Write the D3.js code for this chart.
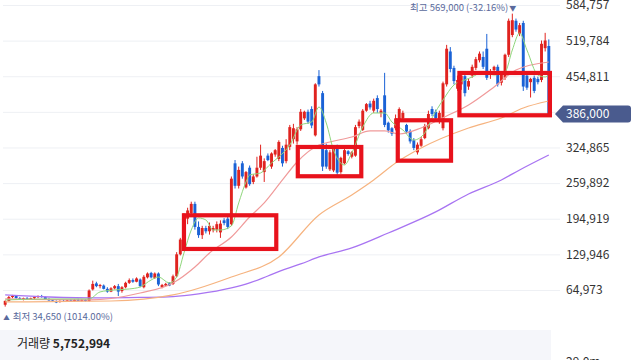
<!DOCTYPE html>
<html><head><meta charset="utf-8">
<script src="https://cdn.jsdelivr.net/npm/d3@7"></script>
<style>
html,body{margin:0;padding:0;background:#fff;}
svg{display:block;font-family:"Noto Sans CJK KR","Noto Sans",sans-serif;}
</style></head><body>
<svg id="chart" width="640" height="360"></svg>
<script>
// prices in thousands of won
const UNIT = 1000;
const open = [38,45,52,54,50,48,50,49,50,52,54,52,48,46,44,43,45,44,46,45,47,46,47,
45,66,77,72,73,67,62,68,72,63,70,78,83,80,84,70,88,96,87,95,70,73,77,76,90,130,148,195,205,222,180,165,178,172,174,175,170,192,195,185,
296,255,296,252,288,262,272,288,280,310,290,312,304,324,300,326,340,336,358,378,390,395,347,455,
424,320,285,283,326,280,296,318,308,310,364,357,392,405,392,415,388,420,370,360,360,374,378,366,
355,338,316,328,342,360,395,390,372,360,440,500,470,432,440,455,436,456,470,484,490,505,458,
466,472,443,452,494,530,556,532,552,456,444,452,450,448,506,510];
const high = [46,54,56,55,52,51,52,51,53,55,56,53,50,48,46,46,47,47,48,48,49,48,48,
66,82,80,76,75,70,70,74,76,72,80,86,86,88,86,92,97,98,97,97,76,78,79,93,134,160,205,215,226,226,190,182,182,188,182,190,192,196,202,272,
302,290,300,282,292,276,308,330,305,314,316,322,338,328,340,366,368,362,395,392,394,400,442,466,
428,332,320,328,330,308,322,320,318,366,376,395,406,410,414,420,395,461,372,362,385,398,392,368,
358,342,334,344,368,392,400,394,392,445,512,508,474,456,462,460,450,476,490,500,500,532,468,
474,476,462,496,560,569,560,552,556,460,452,456,454,520,534,522];
const low = [34.65,44,50,49,47,46,48,47,48,50,51,47,45,43,41,42,43,43,44,44,45,44,44,
44,64,70,68,66,60,61,66,54,60,68,76,78,79,70,68,86,86,85,72,68,72,72,74,88,128,145,185,200,175,160,158,168,166,170,170,160,183,176,182,
250,250,268,250,255,258,270,284,262,300,286,308,300,290,296,320,332,330,355,375,368,360,345,436,
282,286,282,280,275,277,294,310,305,308,360,355,390,394,388,388,380,362,352,346,356,370,372,350,
332,320,312,326,340,358,382,372,368,356,436,462,440,428,430,418,430,452,466,480,468,448,450,
462,436,438,448,490,526,536,528,428,430,416,424,440,444,500,384];
const close = [45,52,54,50,48,50,49,50,52,54,52,48,46,44,43,45,44,46,45,47,46,47,45,
64,76,72,74,67,62,68,72,62,70,78,83,80,86,72,89,95,88,95,75,74,76,73,90,130,157,200,210,222,180,165,178,172,182,178,185,186,187,180,268,
255,284,272,280,258,272,288,310,300,302,314,320,335,296,330,362,360,358,390,390,372,365,440,440,
290,290,316,325,279,306,320,313,316,362,372,392,404,398,410,395,392,366,356,350,378,395,388,354,
336,324,330,340,364,386,386,378,388,442,505,468,446,448,456,424,446,472,486,496,472,452,462,
472,440,460,494,556,557,540,548,436,434,450,428,444,514,520,386];

// moving averages (candle index, value in thousands)
const ma5Idx = [0,12,23,26,30,34,37,40,42,45,47,49,51,53,55,57,59,62,64,66,67,70,73,75,78,81,84,86,88,90,93,95,98,101,104,106,109,112,115,117,120,123,126,128,131,134,137,139,141,143,146,148,149];
const ma5 = [46.8,48.6,48.6,61.4,65.0,66.8,70.5,83.2,88.7,77.8,88.7,132.5,174.4,196.3,192.7,174.4,174.4,181.7,223.7,262,274.7,278.4,296.6,307.6,329.4,365.9,371.4,398.7,369.6,320.3,293.0,314.9,362.3,387.8,387.8,371.4,356.8,338.5,351.3,378.7,411.5,438.9,448.0,453.5,462.6,457.1,462.6,502.7,533.7,502.7,457.1,453.5,457.1];
const ma20Idx = [0,23,37,46,52,56,62,67,71,76,80,86,89,95,100,104,108,114,121,127,134,140,149];
const ma20 = [48.6,46.8,59.5,77.8,106.9,132.5,161.7,198.1,223.7,265.6,298.4,329.4,334.9,344.0,355.0,355.0,349.5,360.5,382.3,402.4,435.2,466.2,480.8];
const ma60Idx = [0,29,46,62,75,86,95,101,107,114,127,136,142,149];
const ma60 = [43.1,44.9,55.9,88.7,125.2,201.8,238.3,265.6,296.6,324.0,360.5,378.7,397.0,409.7];
const ma120Idx = [0,12,26,37,46,53,62,67,72,77,81,86,95,105,118,127,136,141,149];
const ma120 = [55.9,52.2,50.4,51.3,52.8,57.7,68.6,77.8,90.5,103.3,112.4,125.2,141.6,168.9,207.3,240.1,265.6,283.9,311.2];

const yTicks = [64973,129946,194919,259892,324865,389838,454811,519784,584757];
const lastPrice = 386000;
const highIdx = 139;
const highText = "최고 569,000 (-32.16%)";
const lowText = "최저 34,650 (1014.00%)";
const volTitle = "거래량";
const volValue = "5,752,994";
const volAxisText = "29.0m";
// highlighted regions: start index, end index, top price, bottom price (thousands)
const boxStart = [49.0, 80.2, 107.6, 124.5];
const boxEnd = [74.3, 97.6, 122.2, 149.3];
const boxTop = [201.2, 325.8, 374.5, 460.8];
const boxBottom = [139.8, 272.4, 300.8, 383.6];

const svg = d3.select("#chart");
const n = close.length;
const x = d3.scaleBand().domain(d3.range(n)).range([3, 551]).padding(0.2);
const xc = i => x(i) + x.bandwidth() / 2;
const xi = d3.scaleLinear().domain([0, n - 1]).range([xc(0), xc(n - 1)]);
const y = d3.scaleLinear().domain([0, 584757]).range([325.6, 5]);

const UP = "#e0231f", DOWN = "#1a62d6";

// volume pane background
svg.append("rect").attr("x", 0).attr("y", 330).attr("width", 551).attr("height", 30).attr("fill", "#f5f6fa");

// grid
const grid = svg.append("g").attr("transform", "translate(560,0)")
  .call(d3.axisRight(y).tickValues(yTicks).tickSize(-557).tickFormat(""));
grid.select(".domain").remove();
grid.selectAll("line").attr("stroke", "#eef0f4");

// candles
const data = d3.range(n).map(i => ({i, o: open[i]*UNIT, h: high[i]*UNIT, l: low[i]*UNIT, c: close[i]*UNIT}));
const cg = svg.append("g");
cg.selectAll("line.wick").data(data).join("line")
  .attr("x1", d => xc(d.i)).attr("x2", d => xc(d.i))
  .attr("y1", d => y(d.h)).attr("y2", d => y(d.l))
  .attr("stroke", d => d.c >= d.o ? UP : DOWN).attr("stroke-width", 1);
cg.selectAll("rect").data(data).join("rect")
  .attr("x", d => x(d.i)).attr("width", x.bandwidth())
  .attr("y", d => y(Math.max(d.o, d.c)))
  .attr("height", d => Math.max(1, Math.abs(y(d.o) - y(d.c))))
  .attr("fill", d => d.c >= d.o ? UP : DOWN);

// moving averages
const line = d3.line().x(d => xi(d.i)).y(d => y(d.v * UNIT)).curve(d3.curveMonotoneX);
function ma(idx, vals, color, w) {
  svg.append("path").datum(idx.map((i, k) => ({i, v: vals[k]})))
    .attr("d", line).attr("fill", "none").attr("stroke", color).attr("stroke-width", w);
}
ma(ma120Idx, ma120, "#a874f2", 1.3);
ma(ma60Idx, ma60, "#f6b37f", 1.2);
ma(ma20Idx, ma20, "#f09a9a", 1.2);
ma(ma5Idx, ma5, "#8fd67c", 1);

// highlight boxes
svg.append("g").selectAll("rect").data(d3.range(boxStart.length)).join("rect")
  .attr("x", k => xi(boxStart[k])).attr("width", k => xi(boxEnd[k]) - xi(boxStart[k]))
  .attr("y", k => y(boxTop[k]*UNIT)).attr("height", k => y(boxBottom[k]*UNIT) - y(boxTop[k]*UNIT))
  .attr("fill", "none").attr("stroke", "#e8121c").attr("stroke-width", 4.2);

// right axis labels (the one behind the price tag is hidden, as in the source)
const fmt = d3.format(",");
const ax = svg.append("g").attr("transform", "translate(562,0)")
  .call(d3.axisRight(y).tickValues(yTicks.filter(v => Math.abs(y(v) - y(lastPrice)) > 12))
    .tickSize(0).tickPadding(4).tickFormat(fmt));
ax.select(".domain").remove();
ax.selectAll("text").attr("font-size", 12).attr("fill", "#333")
  .attr("font-family", "'Noto Sans CJK KR','Noto Sans',sans-serif");

// last price tag
const ty = y(lastPrice);
svg.append("path")
  .attr("d", `M555,${ty} L563,${ty-8.5} L628,${ty-8.5} Q631,${ty-8.5} 631,${ty-5.5} L631,${ty+5.5} Q631,${ty+8.5} 628,${ty+8.5} L563,${ty+8.5} Z`)
  .attr("fill", "#4a5b8e");
svg.append("text").attr("x", 566).attr("y", ty + 4.3).attr("font-size", 12).attr("fill", "#fff")
  .text(fmt(lastPrice));

// high / low markers
const ht = svg.append("text").attr("x", xc(highIdx) + 4).attr("y", 10.5).attr("text-anchor", "end")
  .attr("font-size", 9.5).attr("fill", "#5a6a9c");
ht.append("tspan").text(highText);
ht.append("tspan").attr("font-size", 7).attr("dx", 1).text("▼");
const lt = svg.append("text").attr("x", xc(0) - 2).attr("y", 319.5).attr("font-size", 9.5).attr("fill", "#5a6a9c");
lt.append("tspan").attr("font-size", 6.5).text("▲");
lt.append("tspan").attr("dx", 3).text(lowText);

// volume pane labels
const vt = svg.append("text").attr("x", 17).attr("y", 347.5).attr("font-size", 12).attr("fill", "#222");
vt.append("tspan").text(volTitle + " ");
vt.append("tspan").attr("font-weight", "bold").text(volValue);
svg.append("text").attr("x", 566).attr("y", 366).attr("font-size", 12).attr("fill", "#333").text(volAxisText);
</script>
</body></html>
